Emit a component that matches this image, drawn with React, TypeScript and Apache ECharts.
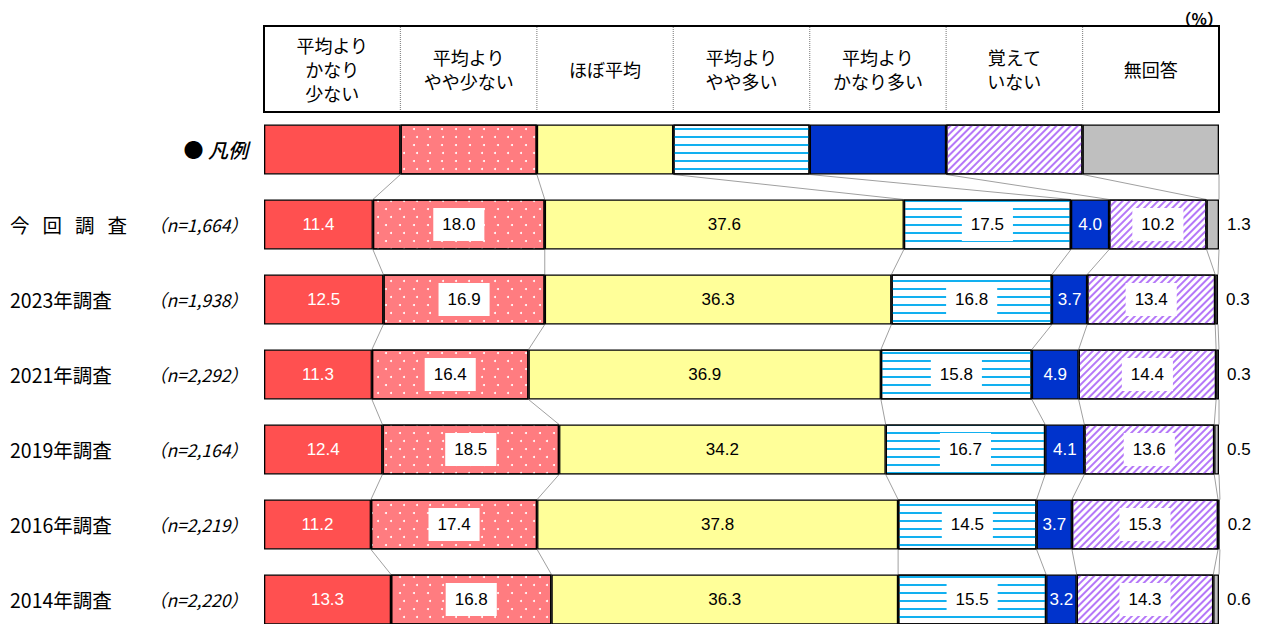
import { useEffect, useRef } from 'react';
import * as echarts from 'echarts';

// ---------- data ----------
const headerLabels = [
  '平均より\nかなり\n少ない',
  '平均より\nやや少ない',
  'ほぼ平均',
  '平均より\nやや多い',
  '平均より\nかなり多い',
  '覚えて\nいない',
  '無回答',
];
const seriesNames = ['平均よりかなり少ない', '平均よりやや少ない', 'ほぼ平均', '平均よりやや多い', '平均よりかなり多い', '覚えていない', '無回答'];
const surveyRows = ['今回調査', '2023年調査', '2021年調査', '2019年調査', '2016年調査', '2014年調査'];
const surveyRowLabels = ['今\u2002\u2006回\u2002\u2006調\u2002\u2006査', '2023年調査', '2021年調査', '2019年調査', '2016年調査', '2014年調査'];
const sampleSizes = ['1,664', '1,938', '2,292', '2,164', '2,219', '2,220'];

const muchLess = [11.4, 12.5, 11.3, 12.4, 11.2, 13.3];
const slightlyLess = [18.0, 16.9, 16.4, 18.5, 17.4, 16.8];
const aboutAverage = [37.6, 36.3, 36.9, 34.2, 37.8, 36.3];
const slightlyMore = [17.5, 16.8, 15.8, 16.7, 14.5, 15.5];
const muchMore = [4.0, 3.7, 4.9, 4.1, 3.7, 3.2];
const dontRemember = [10.2, 13.4, 14.4, 13.6, 15.3, 14.3];
const noAnswer = [1.3, 0.3, 0.3, 0.5, 0.2, 0.6];
const legendKeyWidths = [1, 1, 1, 1, 1, 1, 1];

const allValues = [muchLess, slightlyLess, aboutAverage, slightlyMore, muchMore, dontRemember, noAnswer];

// ---------- styles ----------
const JP = '"Noto Sans CJK JP", "Noto Sans", sans-serif';
const NUM = '"Liberation Sans", Arial, sans-serif';

const segmentStyles: any[] = [
  { color: '#FF5050', labelColor: '#fff', box: false },
  {
    color: '#FF7C80', labelColor: '#000', box: true,
    decal: { symbol: 'circle', symbolSize: 1, color: '#ffffff', dashArrayX: [[2, 11], [0, 6.5, 2, 4.5]], dashArrayY: [2, 5.6] },
  },
  { color: '#FFFF99', labelColor: '#000', box: false },
  {
    color: '#ffffff', labelColor: '#000', box: true,
    decal: { symbol: 'rect', symbolSize: 1, color: '#12B0F0', dashArrayX: [1, 0], dashArrayY: [2, 5.5] },
  },
  { color: '#0033CC', labelColor: '#fff', box: false },
  {
    color: '#ffffff', labelColor: '#000', box: true,
    decal: { symbol: 'rect', symbolSize: 1, color: '#B578F8', dashArrayX: [1, 0], dashArrayY: [1.5, 2.2], rotation: -Math.PI / 4 },
  },
  { color: '#BFBFBF', labelColor: '#000', box: false, outside: true },
];

export default function App() {
  const ref = useRef<HTMLDivElement>(null);

  useEffect(() => {
    if (!ref.current) return;
    const chart = echarts.init(ref.current, undefined, { renderer: 'svg' });

    const categoriesY = ['凡例', ...surveyRows];

    const series: any[] = [];
    allValues.forEach((vals, i) => {
      const st = segmentStyles[i];
      const itemStyle: any = { color: st.color, borderColor: '#000', borderWidth: 1.3 };
      if (st.decal) itemStyle.decal = st.decal;
      series.push({
        type: 'bar',
        name: seriesNames[i],
        stack: 'total',
        xAxisIndex: 0,
        yAxisIndex: 0,
        barWidth: 50,
        barGap: '-100%',
        data: ['-', ...vals],
        itemStyle,
        label: {
          show: true,
          position: st.outside ? 'right' : 'inside',
          distance: 8,
          formatter: (p: any) => Number(p.value).toFixed(1),
          color: st.labelColor,
          fontFamily: NUM,
          fontSize: 17,
          backgroundColor: st.box ? '#fff' : 'transparent',
          padding: st.box ? [8, 9] : 0,
        },
      });
    });
    legendKeyWidths.forEach((w, i) => {
      const st = segmentStyles[i];
      const itemStyle: any = { color: st.color, borderColor: '#000', borderWidth: 1.3 };
      if (st.decal) itemStyle.decal = st.decal;
      series.push({
        type: 'bar',
        name: 'legend-' + seriesNames[i],
        stack: 'legend',
        xAxisIndex: 1,
        yAxisIndex: 0,
        barWidth: 50,
        barGap: '-100%',
        data: [w, ...surveyRows.map(() => '-')],
        itemStyle,
        label: { show: false },
      });
    });

    chart.setOption({
      animation: false,
      grid: { left: 264, top: 112, width: 955, height: 525 },
      xAxis: [
        { type: 'value', min: 0, max: 100, show: false },
        { type: 'value', min: 0, max: 7, show: false },
      ],
      yAxis: [
        {
          type: 'category',
          inverse: true,
          data: categoriesY,
          axisLine: { show: false },
          axisTick: { show: false },
          axisLabel: {
            margin: 16,
            formatter: (_v: string, idx: number) =>
              idx === 0 ? '{dot|●}{lg| 凡例}' : '{n|（n=' + sampleSizes[idx - 1] + '）}',
            rich: {
              dot: { fontFamily: JP, fontSize: 20, color: '#000' },
              lg: { fontFamily: JP, fontSize: 20, fontStyle: 'italic', fontWeight: 500, color: '#000' },
              n: { fontFamily: JP, fontSize: 17.5, fontStyle: 'italic', color: '#000' },
            },
          },
        },
        {
          type: 'category',
          inverse: true,
          position: 'left',
          data: categoriesY,
          axisLine: { show: false },
          axisTick: { show: false },
          axisLabel: {
            margin: 254,
            align: 'left',
            formatter: (_v: string, idx: number) => (idx === 0 ? '' : surveyRowLabels[idx - 1]),
            fontFamily: JP,
            fontSize: 19.5,
            color: '#000',
          },
        },
      ],
      series,
    });

    // ---------- overlays: header table & connector lines ----------
    const graphics: any[] = [];
    const lx = (k: number) => chart.convertToPixel({ xAxisIndex: 1 }, k) as number;
    const vx = (v: number) => chart.convertToPixel({ xAxisIndex: 0 }, v) as number;
    const cy = (idx: number) => chart.convertToPixel({ yAxisIndex: 0 }, idx) as number;
    const half = 25;

    const hTop = 26;
    const hBot = 112;
    graphics.push({
      type: 'rect',
      shape: { x: lx(0), y: hTop, width: lx(7) - lx(0), height: hBot - hTop },
      style: { fill: '#fff', stroke: '#000', lineWidth: 2 },
      z: 10,
    });
    for (let k = 1; k < 7; k++) {
      graphics.push({
        type: 'line',
        shape: { x1: lx(k), y1: hTop + 1, x2: lx(k), y2: hBot - 1 },
        style: { stroke: '#8c8c8c', lineWidth: 1.2, lineDash: [1, 1] },
        z: 11,
      });
    }
    headerLabels.forEach((t, k) => {
      graphics.push({
        type: 'text',
        x: (lx(k) + lx(k + 1)) / 2,
        y: (hTop + hBot) / 2,
        style: { text: t, fill: '#000', fontFamily: JP, fontSize: 18, lineHeight: 24, align: 'center', verticalAlign: 'middle' },
        z: 12,
      });
    });
    graphics.push({
      type: 'text',
      x: lx(7) + 4,
      y: 18,
      style: { text: '（%）', fill: '#000', fontFamily: JP, fontSize: 16, fontWeight: 'bold', align: 'right', verticalAlign: 'middle' },
      z: 12,
    });

    const cumulative = (row: number) => {
      const out: number[] = [];
      let s = 0;
      allValues.forEach((vals) => {
        s += vals[row];
        out.push(s);
      });
      return out;
    };
    const lineStyle = { stroke: '#a0a0a0', lineWidth: 1 };
    // legend -> first row
    const c0 = cumulative(0);
    for (let k = 0; k < 7; k++) {
      graphics.push({
        type: 'line',
        shape: { x1: lx(k + 1), y1: cy(0) + half, x2: vx(c0[k]), y2: cy(1) - half },
        style: lineStyle,
      });
    }
    for (let r = 0; r < surveyRows.length - 1; r++) {
      const a = cumulative(r);
      const b = cumulative(r + 1);
      for (let k = 0; k < 7; k++) {
        graphics.push({
          type: 'line',
          shape: { x1: vx(a[k]), y1: cy(r + 1) + half, x2: vx(b[k]), y2: cy(r + 2) - half },
          style: lineStyle,
        });
      }
    }

    chart.setOption({ graphic: graphics });

    return () => chart.dispose();
  }, []);

  return (
    <div
      ref={ref}
      style={{ position: 'fixed', left: 0, top: 0, width: 1263, height: 700, background: '#fff' }}
    />
  );
}
